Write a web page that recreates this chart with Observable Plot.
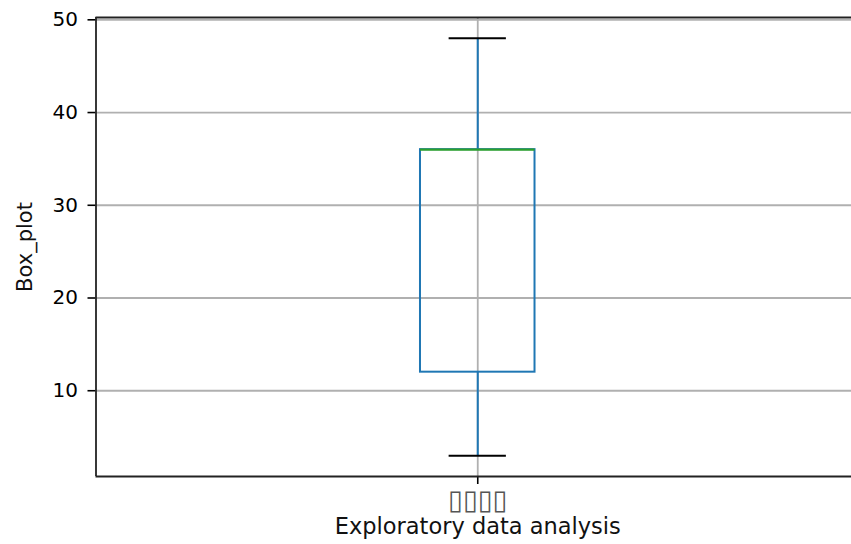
<!DOCTYPE html>
<html>
<head>
<meta charset="utf-8">
<script src="https://cdn.jsdelivr.net/npm/d3@7"></script>
<script src="https://cdn.jsdelivr.net/npm/@observablehq/plot@0.6"></script>
<style>
  html, body { margin: 0; padding: 0; background: #fff; overflow: hidden; }
</style>
</head>
<body>
<div id="chart"></div>
<script>
// ---- data ----
const categories = ["\u25AF\u25AF\u25AF\u25AF"]; // tick label rendered as missing-glyph boxes
const positions = [1];
const whiskerLow = [3];
const q1 = [12];
const median = [36];
const q3 = [36];
const whiskerHigh = [48];
const yTicks = [10, 20, 30, 40, 50];
const yLabel = "Box_plot";
const xLabel = "Exploratory data analysis";

const rows = categories.map((c, i) => ({
  label: c, pos: positions[i], lo: whiskerLow[i], q1: q1[i],
  med: median[i], q3: q3[i], hi: whiskerHigh[i]
}));

const yDomain = [0.75, 50.25];
const xDomain = [0.5, 1.5];
const boxHalf = 0.075, capHalf = 0.0375;
const blue = "#1f77b4", green = "#2ca02c", grid = "#b0b0b0";

const chart = Plot.plot({
  width: 851,
  height: 544,
  marginTop: 17,
  marginBottom: 68,
  marginLeft: 95.5,
  marginRight: -8,
  style: { fontFamily: "DejaVu Sans", background: "#fff", color: "#000" },
  x: { type: "linear", domain: xDomain },
  y: { domain: yDomain },
  marks: [
    Plot.gridY({ ticks: yTicks, stroke: grid, strokeOpacity: 1, strokeWidth: 1.8 }),
    Plot.gridX({ ticks: positions, stroke: grid, strokeOpacity: 1, strokeWidth: 1.8 }),
    Plot.axisY({ ticks: yTicks, tickSize: 8, tickPadding: 10, fontSize: 20, label: null, strokeWidth: 1.6 }),
    Plot.axisX({ ticks: positions, tickSize: 8, tickPadding: 5, fontSize: 27, label: null, strokeWidth: 1.6,
                 tickFormat: (d) => categories[positions.indexOf(d)], fill: "#555" }),
    // frame (left, top, bottom)
    Plot.ruleX([xDomain[0]], { stroke: "#222", strokeWidth: 1.8 }),
    Plot.ruleY(yDomain, { stroke: "#222", strokeWidth: 1.8 }),
    // whiskers
    Plot.ruleX(rows, { x: "pos", y1: "q3", y2: "hi", stroke: blue, strokeWidth: 2 }),
    Plot.ruleX(rows, { x: "pos", y1: "lo", y2: "q1", stroke: blue, strokeWidth: 2 }),
    // box
    Plot.rect(rows, { x1: (d) => d.pos - boxHalf, x2: (d) => d.pos + boxHalf, y1: "q1", y2: "q3",
                      fill: "none", stroke: blue, strokeWidth: 2 }),
    // caps
    Plot.ruleY(rows, { y: "hi", x1: (d) => d.pos - capHalf, x2: (d) => d.pos + capHalf, stroke: "#000", strokeWidth: 2 }),
    Plot.ruleY(rows, { y: "lo", x1: (d) => d.pos - capHalf, x2: (d) => d.pos + capHalf, stroke: "#000", strokeWidth: 2 }),
    // median
    Plot.ruleY(rows, { y: "med", x1: (d) => d.pos - boxHalf, x2: (d) => d.pos + boxHalf, stroke: green, strokeWidth: 2.2 }),
    // axis labels
    Plot.text([yLabel], { frameAnchor: "left", rotate: -90, dx: -70.5, fontSize: 21, fill: "#111",
                          textAnchor: "middle", lineAnchor: "middle" }),
    Plot.text([xLabel], { frameAnchor: "bottom", dy: 50, fontSize: 22.5, fill: "#111",
                          textAnchor: "middle", lineAnchor: "middle" })
  ]
});
document.getElementById("chart").appendChild(chart);
</script>
</body>
</html>
